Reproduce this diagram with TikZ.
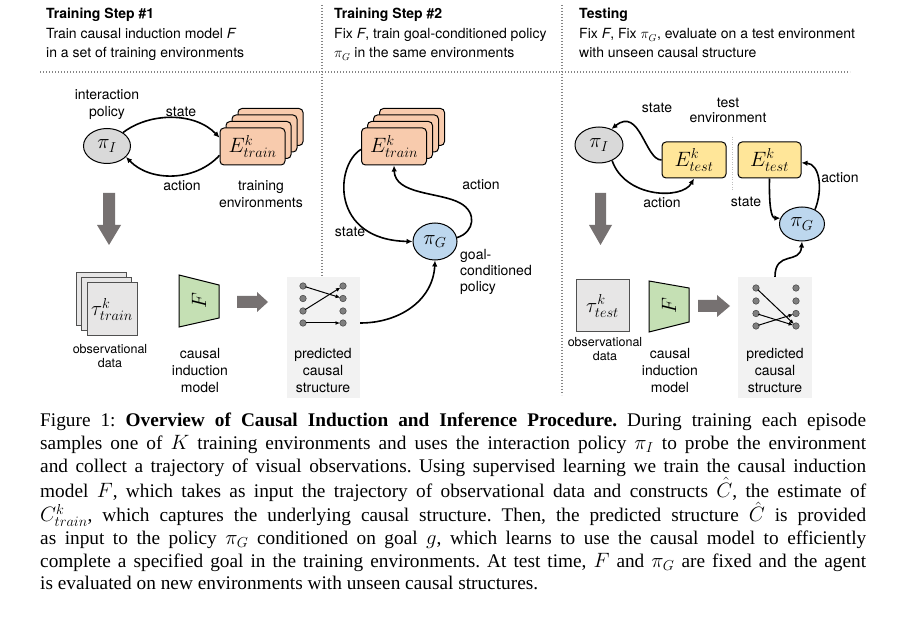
\documentclass[tikz,border=0pt]{standalone}
\usepackage{fontspec}
\setmainfont{TeX Gyre Heros}
\newfontfamily\capfont{Liberation Serif}
\usetikzlibrary{shapes.geometric,arrows.meta,calc}
\definecolor{peach}{HTML}{F8CBAD}
\definecolor{polblue}{HTML}{BDD7EE}
\definecolor{testyel}{HTML}{FFE699}
\definecolor{modgreen}{HTML}{C5E0B4}
\definecolor{polgray}{HTML}{D9D9D9}
\definecolor{obsgray}{HTML}{E7E6E6}
\definecolor{obsedge}{HTML}{505050}
\definecolor{bigarr}{HTML}{767171}
\definecolor{psfill}{HTML}{F2F2F2}
\definecolor{dotfill}{HTML}{7F7F7F}
\definecolor{dotedge}{HTML}{404040}
\definecolor{divgray}{HTML}{858585}
\begin{document}
\begin{tikzpicture}[x=1pt,y=-1pt,
  lbl/.style={font=\fontsize{14}{16}\selectfont, inner sep=0, anchor=base},
  slbl/.style={font=\fontsize{12.5}{14}\selectfont, inner sep=0, anchor=base},
  hdr/.style={font=\fontsize{14}{16}\selectfont, inner sep=0, anchor=base west},
  mth/.style={font=\fontsize{22.5}{24}\selectfont},
  polnode/.style={ellipse, draw=black, line width=1pt, inner sep=0, font=\fontsize{22}{24}\selectfont},
  envbox/.style={draw=black, line width=1pt, rounded corners=4pt, inner sep=0, minimum width=65pt, minimum height=37pt},
  obsbox/.style={draw=obsedge, line width=1pt, fill=obsgray, inner sep=0, minimum width=50pt, minimum height=53pt},
  trap/.style={draw=black, line width=1pt, fill=modgreen},
  psbox/.style={fill=psfill, inner sep=0},
  dotn/.style={circle, fill=dotfill, draw=dotedge, line width=0.5pt, inner sep=0, minimum size=6.5pt},
  sedge/.style={line width=1pt, -{Latex[length=4.5pt,width=4pt]}, shorten <=-1pt, shorten >=-0.5pt},
  flow/.style={line width=1.6pt, -{Latex[length=6pt,width=5.5pt]}},
  bigarrow/.style={fill=bigarr},
  divider/.style={draw=divgray, line width=1.2pt, dash pattern=on 1.2pt off 1.8pt},
]
\useasboundingbox (0,0) rectangle (903,631);
\fill[white] (0,0) rectangle (903,631);

% dividers
\draw[divider] (40,72) -- (850,72);
\draw[divider] (322,5) -- (322,395);
\draw[divider] (562,5) -- (562,395);

% headers
\node[hdr] (h1a) at (46,19) {\textbf{Training Step \#1}};
\node[hdr] (h1b) at (46,39) {Train causal induction model \textit{F}};
\node[hdr] (h1c) at (46,58) {in a set of training environments};
\node[hdr] (h2a) at (334,19) {\textbf{Training Step \#2}};
\node[hdr] (h2b) at (334,39) {Fix \textit{F}, train goal-conditioned policy};
\node[hdr] (h2c) at (334,58) {$\pi_G$ in the same environments};
\node[hdr] (h3a) at (579,19) {\textbf{Testing}};
\node[hdr] (h3b) at (579,39) {Fix \textit{F}, Fix $\pi_G$, evaluate on a test environment};
\node[hdr] (h3c) at (579,58) {with unseen causal structure};

% ===== Step 1 =====
\node[polnode, fill=polgray, minimum width=47pt, minimum height=35pt] (piA) at (107,146) {$\pi_I$};
\node[envbox, fill=peach] (Ea3) at (270.5,127) {};
\node[envbox, fill=peach] (Ea2) at (264.5,133.5) {};
\node[envbox, fill=peach] (Ea1) at (258.5,140) {};
\node[envbox, fill=peach, mth] (Ea) at (252.5,146.5) {$E^k_{train}$};
\draw[flow] (piA.40) .. controls (150,112) and (195,112) .. (Ea.165);
\draw[flow] (Ea.195) .. controls (195,182) and (150,182) .. (piA.-30);
\node[lbl] (lA1) at (107,100) {interaction};
\node[lbl] (lA2) at (107,117) {policy};
\node[lbl] (lA3) at (181,117) {state};
\node[lbl] (lA4) at (182,191) {action};
\node[lbl] (lA5) at (261,191) {training};
\node[lbl] (lA6) at (261,208) {environments};

\fill[bigarrow] (103,193) -- (115,193) -- (115,225) -- (121,225) -- (109,245) -- (97,225) -- (103,225) -- cycle;

\node[obsbox] (oA2) at (101,299.5) {};
\node[obsbox] (oA1) at (106.5,304.5) {};
\node[obsbox, mth] (oA) at (112,309.5) {$\tau^k_{train}$};
\node[slbl] (lA7) at (110,353) {observational};
\node[slbl] (lA8) at (110,367) {data};

\draw[trap] (179,275) -- (219,285) -- (219,318) -- (179,327) -- cycle;
\node[rotate=90, inner sep=0, font=\fontsize{21}{22}\selectfont] (FA) at (199,301) {$F$};
\node[lbl] (lA9) at (200,359) {causal};
\node[lbl] (lA10) at (200,375) {induction};
\node[lbl] (lA11) at (200,392) {model};

\fill[bigarrow] (237,296) -- (257,296) -- (257,292) -- (268,302) -- (257,312) -- (257,308) -- (237,308) -- cycle;

\node[psbox, minimum width=73pt, minimum height=121pt] (psA) at (323.5,337.5) {};
\node[dotn] (aL1) at (303,286) {};
\node[dotn] (aL2) at (303,298.5) {};
\node[dotn] (aL3) at (303,311) {};
\node[dotn] (aL4) at (303,323) {};
\node[dotn] (aR1) at (343,286) {};
\node[dotn] (aR2) at (343,298.5) {};
\node[dotn] (aR3) at (343,311) {};
\node[dotn] (aR4) at (343,323) {};
\draw[sedge] (aL1) -- (aR2);
\draw[sedge] (aL3) -- (aR1);
\draw[sedge] (aL4) -- (aR4);
\node[lbl] (lA12) at (323,358) {predicted};
\node[lbl] (lA13) at (323,375) {causal};
\node[lbl] (lA14) at (323,392) {structure};

% ===== Step 2 =====
\node[envbox, fill=peach] (Eb3) at (412,127) {};
\node[envbox, fill=peach] (Eb2) at (406,133.5) {};
\node[envbox, fill=peach] (Eb1) at (400,140) {};
\node[envbox, fill=peach, mth] (Eb) at (394,146.5) {$E^k_{train}$};
\node[polnode, fill=polblue, minimum width=44pt, minimum height=37pt] (piB) at (435,241.5) {$\pi_G$};
\draw[flow] (Eb.185) .. controls (335,165) and (330,240) .. (piB.180);
\draw[flow] (piB.10) .. controls (475,232) and (477,212) .. (460,203) .. controls (440,192) and (395,195) .. (Eb.south);
\draw[flow] (psA.east |- aR4) .. controls (400,323) and (433,300) .. (piB.south);
\node[lbl] (lB1) at (350,237) {state};
\node[lbl] (lB2) at (481,190) {action};
\node[lbl, anchor=base west] (lB3) at (460,260) {goal-};
\node[lbl, anchor=base west] (lB4) at (460,276) {conditioned};
\node[lbl, anchor=base west] (lB5) at (460,292) {policy};

% ===== Testing =====
\node[polnode, fill=polgray, minimum width=48pt, minimum height=36pt] (piC) at (599,145) {$\pi_I$};
\node[envbox, fill=testyel, minimum width=64pt, minimum height=36pt, mth] (Ec1) at (694,160) {$E^k_{test}$};
\node[envbox, fill=testyel, minimum width=63pt, minimum height=36pt, mth] (Ec2) at (769.5,160) {$E^k_{test}$};
\node[polnode, fill=polblue, minimum width=45pt, minimum height=34pt] (piD) at (802,224) {$\pi_G$};
\draw[draw=lightgray, line width=1pt, dash pattern=on 1pt off 1.5pt] (732,137) -- (732,192);
\draw[flow] (Ec1.west) .. controls (645,160) and (640,106) .. (piC.52);
\draw[flow] (piC.-50) .. controls (625,198) and (682,200) .. (Ec1.south);
\draw[flow] (Ec2.south) .. controls (769,205) and (771,218) .. (piD.165);
\draw[flow] (piD.48) .. controls (823,190) and (820,164) .. (Ec2.-5);
\node[lbl] (lC1) at (657,113) {state};
\node[lbl] (lC2) at (728,108) {test};
\node[lbl] (lC3) at (728,123) {environment};
\node[lbl] (lC4) at (662,208) {action};
\node[lbl] (lC5) at (746,207) {state};
\node[lbl] (lC6) at (840,183) {action};

\fill[bigarrow] (595,193) -- (606,193) -- (606,225) -- (612,225) -- (600.5,245) -- (589,225) -- (595,225) -- cycle;

\node[obsbox, minimum width=53pt, minimum height=52pt, mth] (oC) at (602.5,306) {$\tau^k_{test}$};
\node[slbl] (lC7) at (605,346) {observational};
\node[slbl] (lC8) at (605,360) {data};

\draw[trap] (649,281) -- (689,288) -- (689,322) -- (649,332) -- cycle;
\node[rotate=90, inner sep=0, font=\fontsize{21}{22}\selectfont] (FC) at (669,306) {$F$};
\node[lbl] (lC9) at (670,358) {causal};
\node[lbl] (lC10) at (670,375) {induction};
\node[lbl] (lC11) at (670,392) {model};

\fill[bigarrow] (698,300) -- (717,300) -- (717,295) -- (730,306) -- (717,317) -- (717,312) -- (698,312) -- cycle;

\node[psbox, minimum width=74pt, minimum height=121pt] (psC) at (775,337.5) {};
\node[dotn] (cL1) at (756,288) {};
\node[dotn] (cL2) at (756,301) {};
\node[dotn] (cL3) at (756,313.5) {};
\node[dotn] (cL4) at (756,326) {};
\node[dotn] (cR1) at (796,288) {};
\node[dotn] (cR2) at (796,301) {};
\node[dotn] (cR3) at (796,313.5) {};
\node[dotn] (cR4) at (796,326) {};
\draw[sedge] (cL1) -- (cR4);
\draw[sedge] (cL3) -- (cR4);
\draw[sedge] (cL4) -- (cR3);
\draw[flow] (psC.north) .. controls (775,250) and (800,265) .. (piD.south);
\node[lbl] (lC12) at (775,358) {predicted};
\node[lbl] (lC13) at (775,375) {causal};
\node[lbl] (lC14) at (775,392) {structure};

% ===== Caption =====
\node[anchor=north west, inner sep=0, text width=826pt, align=justify,
      font=\capfont\fontsize{19.3}{22.7}\selectfont] (cap) at (40,413) {%
\frenchspacing\noindent Figure 1: \textbf{Overview of Causal Induction and Inference Procedure.} During training each episode\linebreak
samples one of $K$ training environments and uses the interaction policy $\pi_I$ to probe the environment\linebreak
and collect a trajectory of visual observations. Using supervised learning we train the causal induction\linebreak
model $F$, which takes as input the trajectory of observational data and constructs $\hat{C}$, the estimate of\linebreak
$C^k_{train}$, which captures the underlying causal structure. Then, the predicted structure $\hat{C}$ is provided\linebreak
as input to the policy $\pi_G$ conditioned on goal $g$, which learns to use the causal model to efficiently\linebreak
complete a specified goal in the training environments. At test time, $F$ and $\pi_G$ are fixed and the agent\linebreak
is evaluated on new environments with unseen causal structures.};
\end{tikzpicture}
\end{document}
